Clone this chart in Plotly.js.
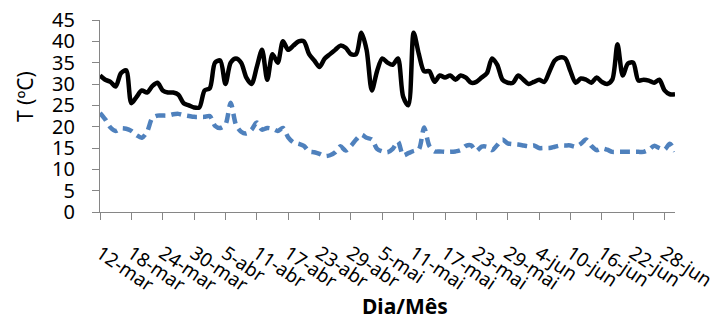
<!DOCTYPE html>
<html>
<head>
<meta charset="utf-8">
<script src="https://cdn.plot.ly/plotly-3.0.1.min.js"></script>
<style>html,body{margin:0;padding:0;background:#fff;}#chart{width:728px;height:321px;}</style>
</head>
<body>
<div id="chart"></div>
<script>
// First day of the series and number of daily observations (12-mar .. 30-jun)
var startDate = '2013-03-12';
var nDays = 111;

// Daily maximum temperature (black, solid)
var tMax = [32, 31, 30.5, 29.4, 32.5, 33.2, 25.5, 27, 28.5, 28, 29.5, 30.3, 28.5, 28, 28, 27.5, 25.5, 25, 24.5, 24.5,
            28.5, 29, 35, 35.5, 30, 35, 36, 35, 31.5, 30, 34, 38, 31, 37, 35, 40, 38, 39, 40, 40,
            37, 35.5, 34, 36, 37, 38, 39, 38.5, 37, 37, 42, 38, 28.5, 33, 36, 35, 34.5, 36, 27, 25,
            42, 37, 33, 33, 30.5, 32, 31.5, 32, 31, 32, 31.5, 30.3, 30.5, 31.5, 32.5, 36, 34.5, 31, 30.3, 30.3,
            32, 31, 30, 30.5, 31, 30.5, 33, 35.5, 36.2, 36, 33, 30.3, 31.3, 31, 30.3, 31.5, 30.5, 30, 31, 39.3,
            32, 34.8, 35, 30.8, 31, 30.8, 30.3, 31, 28.5, 27.6, 27.6];

// Daily minimum temperature (blue, dashed)
var tMin = [23.2, 21.7, 19.8, 19, 19.6, 19.5, 19, 18, 17.4, 18.8, 22, 22.6, 22.6, 22.6, 22.9, 23, 22.7, 22.5, 22.3, 22.3,
            22.3, 22.5, 20.2, 19.7, 20.5, 25.6, 20.5, 18.8, 18.4, 19.3, 21, 19.3, 19.7, 19.5, 19, 19.7, 17.5, 16.3, 16, 15.5,
            14.2, 14, 13.6, 13.1, 13.3, 14, 15.4, 14.4, 15.5, 17, 18.1, 17.4, 17, 14.8, 14.2, 14, 14.8, 16.5, 13.3, 13.8,
            14.3, 14.7, 19.8, 15.5, 14.2, 14.2, 14.1, 14.1, 14.2, 14.5, 15.5, 15.6, 14.3, 15.3, 15.3, 14.5, 15.7, 17, 16.1, 15.9,
            15.8, 15.6, 15.4, 15.6, 15, 15, 15, 15.3, 15.6, 15.6, 15.6, 15.3, 16, 17, 15.5, 14.5, 14.9, 14.6, 14.1, 14.1,
            14.1, 14.1, 14.1, 14.1, 14.1, 14.6, 15.5, 15, 14.6, 16, 14.2];

// Axis tick positions and labels
var tickDates = ['2013-03-12','2013-03-18','2013-03-24','2013-03-30','2013-04-05','2013-04-11','2013-04-17','2013-04-23',
                 '2013-04-29','2013-05-05','2013-05-11','2013-05-17','2013-05-23','2013-05-29','2013-06-04','2013-06-10',
                 '2013-06-16','2013-06-22','2013-06-28'];
var tickLabels = ['12-mar','18-mar','24-mar','30-mar','5-abr','11-abr','17-abr','23-abr','29-abr','5-mai','11-mai',
                  '17-mai','23-mai','29-mai','4-jun','10-jun','16-jun','22-jun','28-jun'];
var yTicks = [0, 5, 10, 15, 20, 25, 30, 35, 40, 45];

var dates = [];
var d0 = new Date(startDate + 'T00:00:00Z');
for (var i = 0; i < nDays; i++) {
  var d = new Date(d0.getTime() + i * 86400000);
  dates.push(d.toISOString().slice(0, 10));
}

var traces = [
  {x: dates, y: tMax, type: 'scatter', mode: 'lines', name: 'Tmax',
   line: {color: '#000000', width: 4.5, shape: 'spline', smoothing: 0.8}},
  {x: dates, y: tMin, type: 'scatter', mode: 'lines', name: 'Tmin',
   line: {color: '#4f81bd', width: 4.5, dash: '10px,6px', shape: 'spline', smoothing: 0.8}}
];

var font = 'Noto Sans, DejaVu Sans, sans-serif';
var layout = {
  width: 728, height: 321,
  margin: {l: 100, r: 53, t: 20, b: 109},
  paper_bgcolor: '#ffffff', plot_bgcolor: '#ffffff',
  showlegend: false,
  xaxis: {
    type: 'date', range: [dates[0], dates[nDays - 1]],
    tickmode: 'array', tickvals: tickDates, ticktext: tickLabels,
    tickangle: 34, ticks: 'outside', ticklen: 7, tickcolor: '#868686', tickwidth: 1,
    showline: true, linecolor: '#868686', linewidth: 1,
    showgrid: false, zeroline: false,
    ticklabelstandoff: 15,
    tickfont: {family: font, size: 19, color: '#000000'}
  },
  yaxis: {
    range: [0, 45], tickmode: 'array', tickvals: yTicks,
    ticks: 'outside', ticklen: 7, tickcolor: '#868686', tickwidth: 1,
    showline: true, linecolor: '#868686', linewidth: 1,
    showgrid: false, zeroline: false,
    ticklabelstandoff: 13,
    tickfont: {family: font, size: 20, color: '#000000'}
  },
  annotations: [
    {text: 'T (ºC)', xref: 'paper', yref: 'paper', x: -0.13, y: 0.6, xanchor: 'center', yanchor: 'middle',
     textangle: -90, showarrow: false, font: {family: font, size: 21, color: '#000000'}},
    {text: '<b>Dia/Mês</b>', xref: 'paper', yref: 'paper', x: 0.53, y: -0.49, xanchor: 'center', yanchor: 'middle',
     showarrow: false, font: {family: font, size: 21, color: '#000000'}}
  ]
};

Plotly.newPlot('chart', traces, layout, {displayModeBar: false, staticPlot: true});
</script>
</body>
</html>
